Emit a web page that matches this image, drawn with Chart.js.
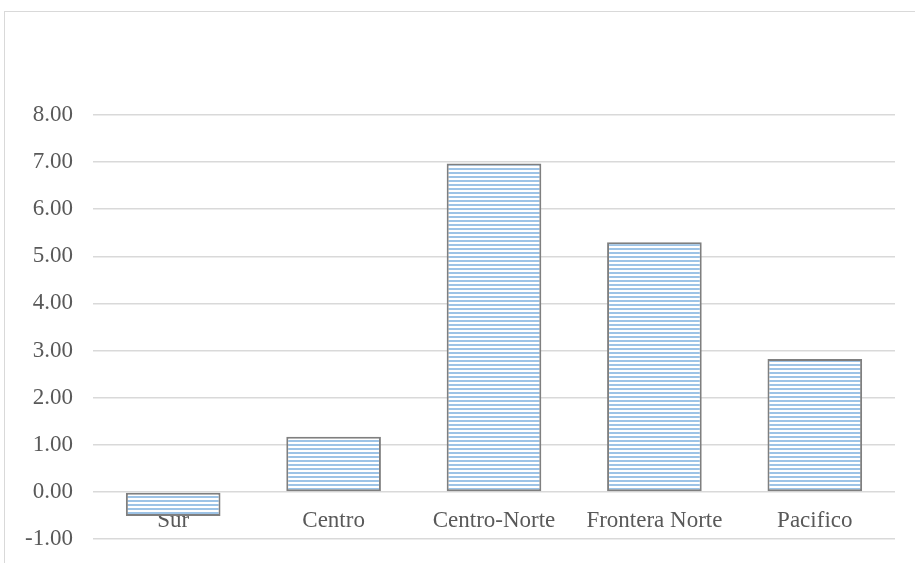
<!DOCTYPE html>
<html lang="es">

<head>
    <meta charset="UTF-8">
    <title>Regiones</title>
    <style>
        html, body { margin: 0; padding: 0; background: #fff; overflow: hidden; }
        #wrap { position: relative; width: 915px; height: 563px; overflow: hidden; }
        #frame { position: absolute; left: 4px; top: 11px; width: 1000px; height: 1000px; border: 1.5px solid #d9d9d9; }
        #chart { position: absolute; left: 0; top: 0; }
    </style>
</head>

<body>
    <div id="wrap">
        <div id="frame"></div>
        <canvas id="chart" width="915" height="563"></canvas>
    </div>

    <script src="https://cdn.jsdelivr.net/npm/chart.js@4/dist/chart.umd.min.js"></script>
    <script>
        const regions = ['Sur', 'Centro', 'Centro-Norte', 'Frontera Norte', 'Pacifico'];
        const values = [-0.51, 1.17, 6.97, 5.30, 2.82];
        const yTicks = [-1, 0, 1, 2, 3, 4, 5, 6, 7, 8];

        // horizontal stripe fill like the excel pattern
        function stripes() {
            const c = document.createElement('canvas');
            c.width = 8;
            c.height = 4;
            const g = c.getContext('2d');
            g.fillStyle = '#ffffff';
            g.fillRect(0, 0, 8, 4);
            g.fillStyle = '#9dc3e6';
            g.fillRect(0, 0, 8, 2);
            return g.createPattern(c, 'repeat');
        }

        const ctx = document.getElementById('chart').getContext('2d');
        const font = { family: '"Liberation Serif", "Times New Roman", serif', size: 23 };

        new Chart(ctx, {
            type: 'bar',
            data: {
                labels: regions,
                datasets: [{
                    data: values,
                    backgroundColor: stripes(),
                    borderColor: '#7f7f7f',
                    borderWidth: 2,
                    borderSkipped: false,
                    categoryPercentage: 1,
                    barPercentage: 0.59
                }]
            },
            options: {
                responsive: false,
                devicePixelRatio: 1,
                animation: false,
                layout: { padding: { top: 115, bottom: 24, left: 0, right: 20 } },
                plugins: { legend: { display: false }, tooltip: { enabled: false } },
                scales: {
                    x: {
                        position: { y: 0 },
                        z: 1,
                        afterFit: (s) => { s.height = 0; },
                        grid: { display: false },
                        border: { display: false },
                        ticks: { color: '#595959', font: font, padding: 7, maxRotation: 0 }
                    },
                    y: {
                        min: -1,
                        max: 8,
                        afterBuildTicks: (s) => { s.ticks = yTicks.map(v => ({ value: v })); },
                        afterFit: (s) => { s.width = 93; s.paddingTop = 0; s.paddingBottom = 0; },
                        grid: { color: '#d9d9d9', lineWidth: 1.5, drawTicks: false },
                        border: { display: false },
                        ticks: {
                            color: '#595959',
                            font: font,
                            padding: 20,
                            callback: (v) => Number(v).toFixed(2)
                        }
                    }
                }
            }
        });
    </script>
</body>

</html>
